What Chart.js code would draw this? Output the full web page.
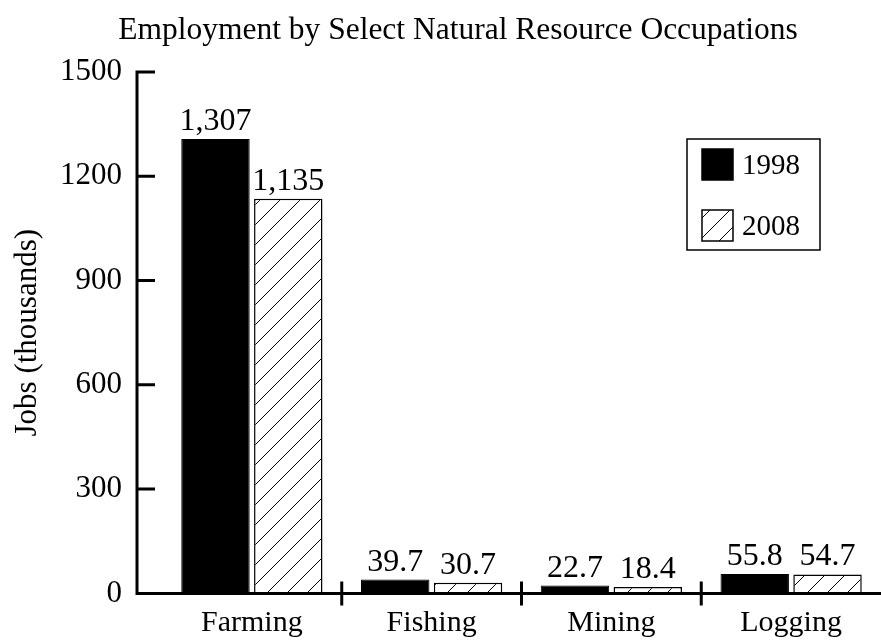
<!DOCTYPE html>
<html>
<head>
<meta charset="utf-8">
<script src="https://cdn.jsdelivr.net/npm/chart.js@4.4.0/dist/chart.umd.min.js"></script>
<style>
  html, body { margin: 0; padding: 0; background: #fff; }
  #wrap { width: 881px; height: 644px; }
</style>
</head>
<body>
<div id="wrap"><canvas id="jobs"></canvas></div>
<script>
const categories = ['Farming', 'Fishing', 'Mining', 'Logging'];
const years = ['1998', '2008'];
const jobs1998 = [1307, 39.7, 22.7, 55.8];
const jobs2008 = [1135, 30.7, 18.4, 54.7];
const yTicks = [0, 300, 600, 900, 1200, 1500];

const chartTitle = 'Employment by Select Natural Resource Occupations';
const axisTitle = 'Jobs (thousands)';
const serif = '"Liberation Serif", "DejaVu Serif", serif';

// white tile with a "/" stripe, used for the 2008 bars
function hatch() {
    const c = document.createElement('canvas');
    c.width = 20;
    c.height = 20;
    const g = c.getContext('2d');
    g.fillStyle = '#fff';
    g.fillRect(0, 0, 20, 20);
    g.strokeStyle = '#000';
    g.lineWidth = 1;
    g.beginPath();
    g.moveTo(0, 20); g.lineTo(20, 0);
    g.moveTo(-2, 2); g.lineTo(2, -2);
    g.moveTo(18, 22); g.lineTo(22, 18);
    g.stroke();
    return g.createPattern(c, 'repeat');
}

function fmt(v) {
    return v >= 1000 ? v.toLocaleString('en-US') : v.toFixed(1);
}

// axis lines, value labels, legend and title
const frame = {
    id: 'frame',
    afterDatasetsDraw(chart) {
        const ctx = chart.ctx;
        const area = chart.chartArea;
        const x = chart.scales.x;
        const y = chart.scales.y;
        const axisX = area.left - 25;
        const y0 = y.getPixelForValue(0);

        ctx.save();
        ctx.strokeStyle = '#000';
        ctx.lineWidth = 3;
        ctx.beginPath();
        ctx.moveTo(axisX, y.getPixelForValue(yTicks[yTicks.length - 1]) - 1.5);
        ctx.lineTo(axisX, y0);
        ctx.lineTo(area.right, y0);
        yTicks.forEach(v => {
            const py = y.getPixelForValue(v);
            ctx.moveTo(axisX, py);
            ctx.lineTo(axisX + 18, py);
        });
        for (let i = 1; i < categories.length; i++) {
            const px = (x.getPixelForValue(i - 1) + x.getPixelForValue(i)) / 2;
            ctx.moveTo(px, y0 - 12);
            ctx.lineTo(px, y0 + 12);
        }
        ctx.stroke();

        ctx.fillStyle = '#000';
        ctx.font = '32px ' + serif;
        ctx.textAlign = 'center';
        ctx.textBaseline = 'alphabetic';
        chart.data.datasets.forEach((ds, i) => {
            chart.getDatasetMeta(i).data.forEach((bar, j) => {
                ctx.fillText(fmt(ds.data[j]), bar.x, bar.y - 9);
            });
        });

        // legend
        ctx.lineWidth = 1.5;
        ctx.strokeRect(687, 139, 133, 111);
        ctx.font = '29px ' + serif;
        ctx.textAlign = 'left';
        ctx.textBaseline = 'middle';
        chart.data.datasets.forEach((ds, i) => {
            const top = 149 + i * 61;
            ctx.fillStyle = ds.backgroundColor;
            ctx.fillRect(702, top, 31, 31);
            ctx.lineWidth = 1.5;
            ctx.strokeRect(702, top, 31, 31);
            ctx.fillStyle = '#000';
            ctx.fillText(ds.label, 742, top + 17);
        });

        ctx.font = '31.5px ' + serif;
        ctx.textAlign = 'center';
        ctx.fillText(chartTitle, 458, 31);
        ctx.restore();
    }
};

const ctx = document.getElementById('jobs').getContext('2d');
new Chart(ctx, {
    type: 'bar',
    data: {
        labels: categories,
        datasets: [{
            label: years[0],
            data: jobs1998,
            backgroundColor: '#000',
            borderColor: '#000',
            borderWidth: 1
        }, {
            label: years[1],
            data: jobs2008,
            backgroundColor: hatch(),
            borderColor: '#000',
            borderWidth: 1.5
        }]
    },
    options: {
        responsive: true,
        maintainAspectRatio: false,
        animation: false,
        layout: { padding: { top: 72, right: 0, bottom: 0, left: 0 } },
        datasets: {
            bar: { categoryPercentage: 0.81, barPercentage: 0.94 }
        },
        plugins: {
            legend: { display: false },
            tooltip: { enabled: false }
        },
        scales: {
            x: {
                grid: { display: false },
                border: { display: false },
                ticks: {
                    color: '#000',
                    font: { family: serif, size: 30 },
                    padding: 4
                },
                afterFit(scale) { scale.height = 45.4; }
            },
            y: {
                min: 0,
                max: 1500,
                afterBuildTicks(scale) {
                    scale.ticks = yTicks.map(v => ({ value: v }));
                },
                grid: { display: false },
                border: { display: false },
                ticks: {
                    color: '#000',
                    font: { family: serif, size: 31 },
                    padding: 32,
                    callback: v => String(v)
                },
                title: {
                    display: true,
                    text: axisTitle,
                    color: '#000',
                    font: { family: serif, size: 31 },
                    padding: { top: 9, bottom: 0 }
                },
                afterFit(scale) { scale.width = 162; }
            }
        }
    },
    plugins: [frame]
});
</script>
</body>
</html>
